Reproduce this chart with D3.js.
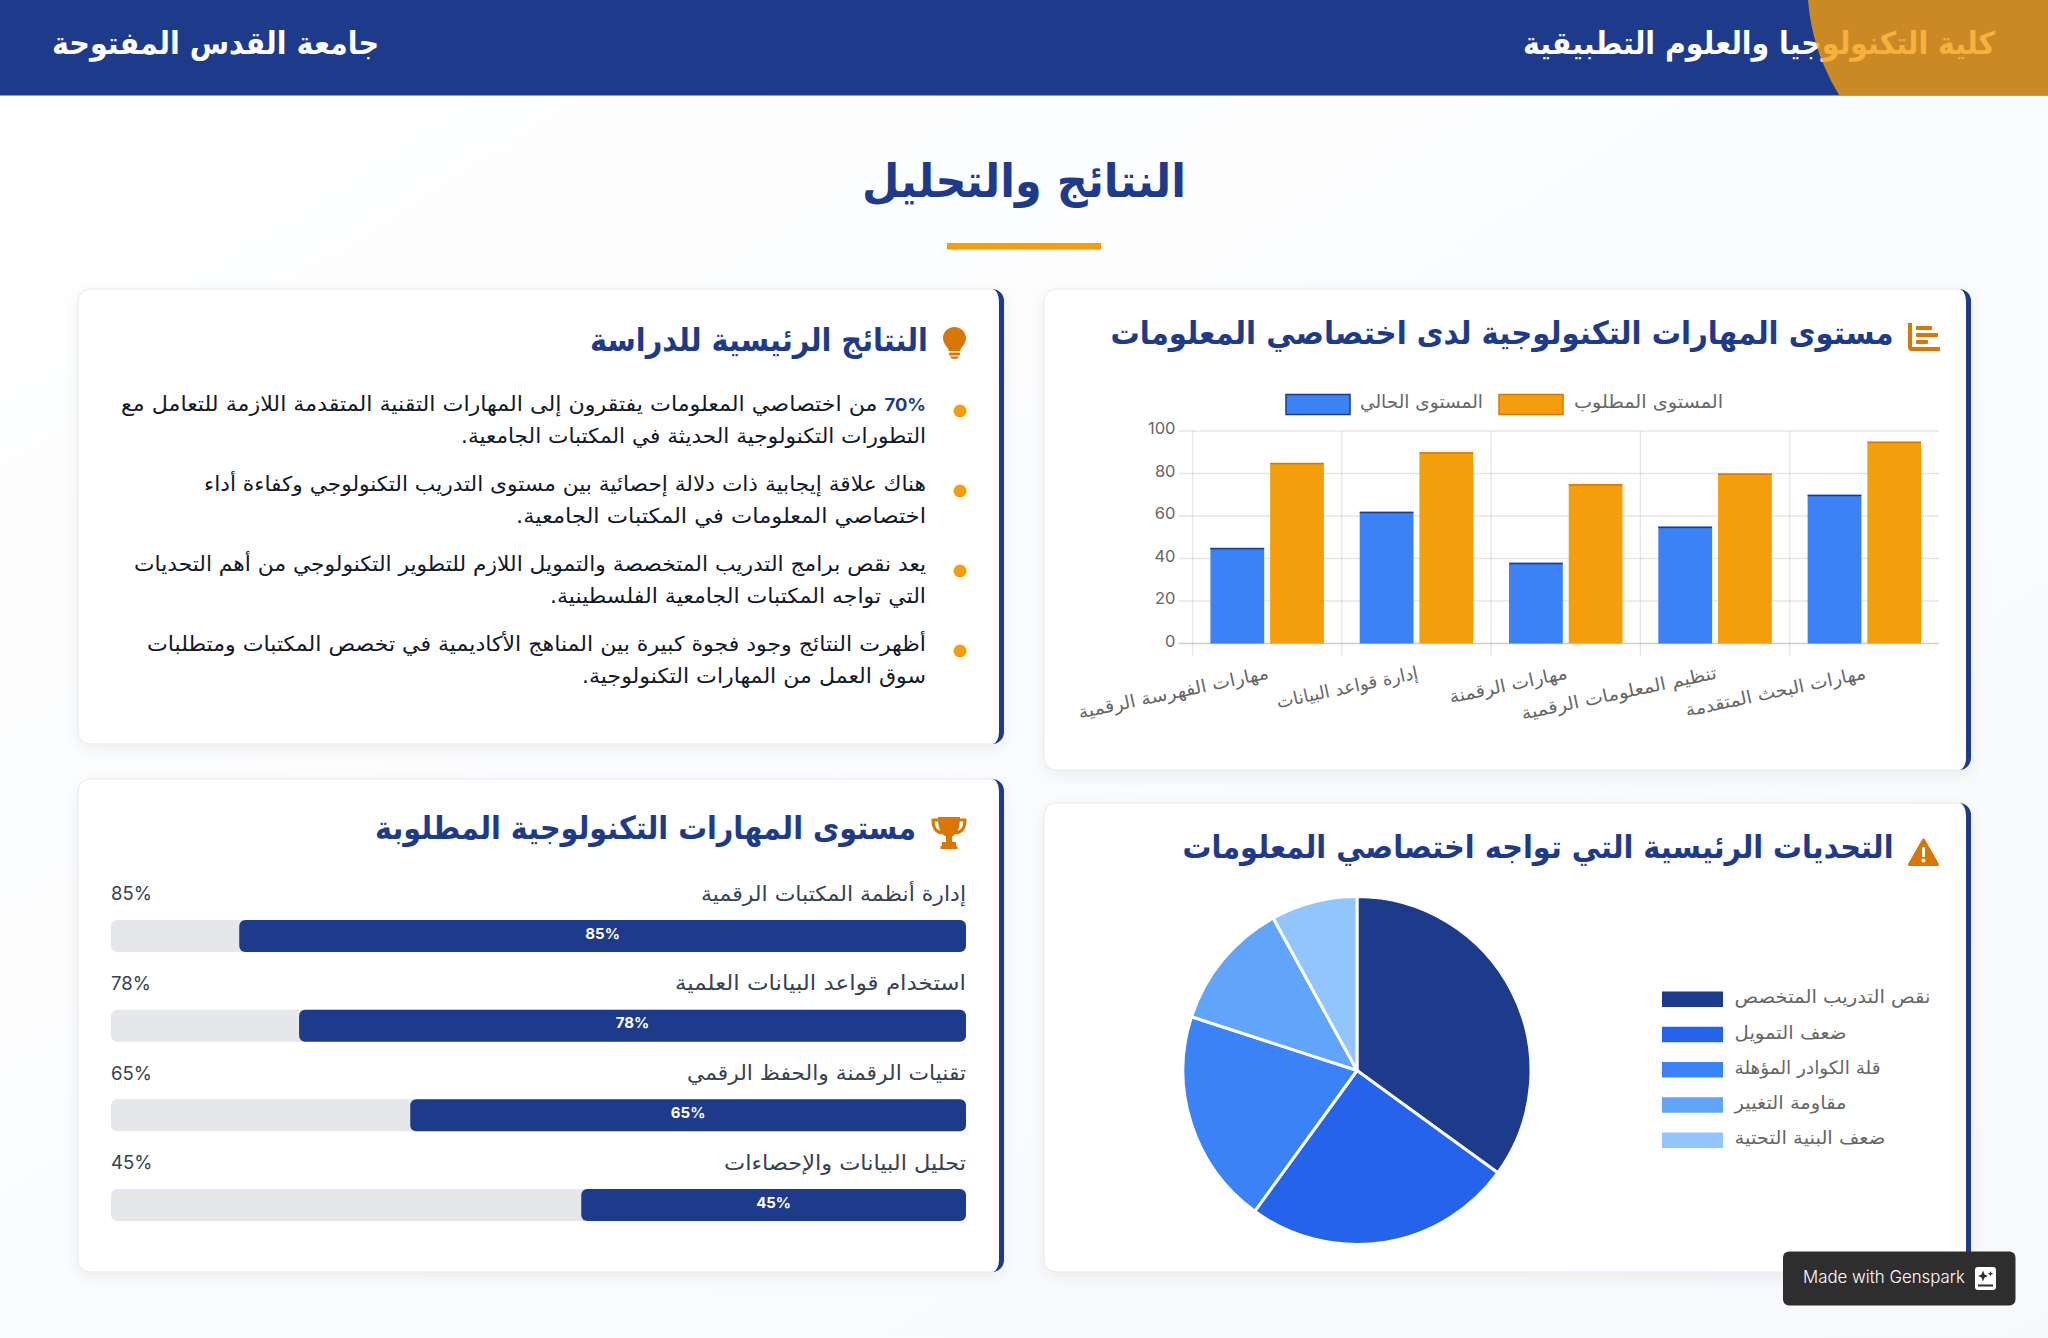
<!DOCTYPE html>
<html lang="ar">
<head>
<meta charset="utf-8">
<script src="https://cdnjs.cloudflare.com/ajax/libs/d3/7.8.5/d3.min.js"></script>
<style>
  html, body { margin: 0; padding: 0; background: #fff; }
  svg { display: block; }
  text { font-family: 'DejaVu Sans', sans-serif; }
  .latin { font-family: Inter, 'Noto Sans', sans-serif; }
</style>
</head>
<body>
<script>
const collegeName = 'كلية التكنولوجيا والعلوم التطبيقية'
const universityName = 'جامعة القدس المفتوحة'
const pageTitle = 'النتائج والتحليل'

const barTitle = 'مستوى المهارات التكنولوجية لدى اختصاصي المعلومات'
const findingsTitle = 'النتائج الرئيسية للدراسة'
const skillsTitle = 'مستوى المهارات التكنولوجية المطلوبة'
const pieTitle = 'التحديات الرئيسية التي تواجه اختصاصي المعلومات'

const categories = ['مهارات الفهرسة الرقمية', 'إدارة قواعد البيانات', 'مهارات الرقمنة', 'تنظيم المعلومات الرقمية', 'مهارات البحث المتقدمة']
const currentLevel = [45, 62, 38, 55, 70]
const requiredLevel = [85, 90, 75, 80, 95]
const seriesNames = ['المستوى الحالي', 'المستوى المطلوب']
const yTicks = [0, 20, 40, 60, 80, 100]

const findings = [
  ['70% من اختصاصي المعلومات يفتقرون إلى المهارات التقنية المتقدمة اللازمة للتعامل مع', 'التطورات التكنولوجية الحديثة في المكتبات الجامعية.'],
  ['هناك علاقة إيجابية ذات دلالة إحصائية بين مستوى التدريب التكنولوجي وكفاءة أداء', 'اختصاصي المعلومات في المكتبات الجامعية.'],
  ['يعد نقص برامج التدريب المتخصصة والتمويل اللازم للتطوير التكنولوجي من أهم التحديات', 'التي تواجه المكتبات الجامعية الفلسطينية.'],
  ['أظهرت النتائج وجود فجوة كبيرة بين المناهج الأكاديمية في تخصص المكتبات ومتطلبات', 'سوق العمل من المهارات التكنولوجية.']
]

const skillNames = ['إدارة أنظمة المكتبات الرقمية', 'استخدام قواعد البيانات العلمية', 'تقنيات الرقمنة والحفظ الرقمي', 'تحليل البيانات والإحصاءات']
const skillValues = [85, 78, 65, 45]

const challengeNames = ['نقص التدريب المتخصص', 'ضعف التمويل', 'قلة الكوادر المؤهلة', 'مقاومة التغيير', 'ضعف البنية التحتية']
const challengeValues = [35, 25, 20, 12, 8]
const challengeColors = ['#1e3a8a', '#2563eb', '#3b82f6', '#60a5fa', '#93c5fd']

const navy = '#1e3a8a', amber = '#f59e0b', darkAmber = '#d97706'

const svg = d3.select('body').append('svg')
  .attr('width', 2048)
  .attr('height', 1338)

const defs = svg.append('defs')
const bg = defs.append('linearGradient').attr('id', 'bg')
  .attr('x1', 0).attr('y1', 0).attr('x2', 1).attr('y2', 1)
bg.append('stop').attr('offset', 0).attr('stop-color', '#ffffff')
bg.append('stop').attr('offset', 1).attr('stop-color', '#f7f9fc')
const shadow = defs.append('filter').attr('id', 'shadow')
  .attr('x', '-5%').attr('y', '-5%').attr('width', '110%').attr('height', '112%')
shadow.append('feDropShadow').attr('dx', 0).attr('dy', 5).attr('stdDeviation', 8)
  .attr('flood-color', '#000').attr('flood-opacity', 0.06)

svg.append('rect').attr('width', 2048).attr('height', 1338).attr('fill', 'url(#bg)')

// text helper: fits arabic strings to the measured width of the original
function put(parent, str, x, y, size, width, opts = {}) {
  const t = parent.append('text')
    .attr('x', x).attr('y', y)
    .attr('dy', '.35em')
    .attr('direction', opts.ltr ? 'ltr' : 'rtl')
    .attr('text-anchor', opts.anchor || 'start')
    .attr('font-size', size)
    .attr('font-weight', opts.weight || 400)
    .attr('fill', opts.fill || '#111827')
    .text(str)
  if (width) t.attr('textLength', width).attr('lengthAdjust', 'spacingAndGlyphs')
  return t
}

// header
svg.append('rect').attr('width', 2048).attr('height', 95.5).attr('fill', navy)
put(svg, universityName, 379, 43, 31, 327, { weight: 700, fill: '#fff' })
put(svg, collegeName, 1995, 43, 31, 472, { weight: 700, fill: '#fff' })
defs.append('clipPath').attr('id', 'headerClip').append('rect').attr('width', 2048).attr('height', 95.5)
svg.append('circle')
  .attr('cx', 2018).attr('cy', -16).attr('r', 210.6)
  .attr('fill', amber).attr('opacity', 0.8)
  .attr('clip-path', 'url(#headerClip)')

// page title
put(svg, pageTitle, 1024, 180.5, 46, 324, { anchor: 'middle', weight: 700, fill: navy })
svg.append('rect').attr('x', 947).attr('y', 243).attr('width', 154).attr('height', 6.5).attr('fill', amber)

// cards
function card(x0, y0, x1, y1) {
  const g = svg.append('g')
  g.append('rect')
    .attr('x', x0).attr('y', y0)
    .attr('width', x1 - x0).attr('height', y1 - y0)
    .attr('rx', 12)
    .attr('fill', '#fff').attr('stroke', '#e4e7eb')
    .attr('filter', 'url(#shadow)')
  g.append('path').attr('fill', navy).attr('d',
    `M${x1 - 12},${y0}A12,12 0 0 1 ${x1},${y0 + 12}V${y1 - 12}A12,12 0 0 1 ${x1 - 12},${y1}` +
    `A7,12 0 0 0 ${x1 - 5},${y1 - 12}V${y0 + 12}A7,12 0 0 0 ${x1 - 12},${y0}Z`)
  return g
}

const barCard = card(1044, 289, 1971, 770)
const findingsCard = card(78, 289, 1004, 744)
const skillsCard = card(78, 779, 1004, 1272)
const pieCard = card(1044, 803, 1971, 1272)

// icons
function iconChart(g, x, y) {
  const i = g.append('g').attr('transform', `translate(${x},${y})`).attr('fill', darkAmber)
  i.append('path').attr('d', 'M0,0h4v24h28v4h-28a4,4 0 0 1 -4,-4z')
  i.append('rect').attr('x', 8).attr('y', 3).attr('width', 16).attr('height', 4).attr('rx', 1)
  i.append('rect').attr('x', 8).attr('y', 10).attr('width', 22).attr('height', 4).attr('rx', 1)
  i.append('rect').attr('x', 8).attr('y', 17).attr('width', 12).attr('height', 4).attr('rx', 1)
}
function iconBulb(g, x, y) {
  const i = g.append('g').attr('transform', `translate(${x},${y})`).attr('fill', darkAmber)
  i.append('path').attr('d', 'M11.5,0C5,0 0,5 0,11C0,17 4.5,19 6,24H17C18.5,19 23,17 23,11C23,5 18,0 11.5,0Z')
  i.append('rect').attr('x', 6).attr('y', 25.5).attr('width', 11).attr('height', 3).attr('rx', 1)
  i.append('path').attr('d', 'M7,29.5H16Q15,32 11.5,32Q8,32 7,29.5Z')
}
function iconTrophy(g, x, y) {
  const i = g.append('g').attr('transform', `translate(${x},${y})`)
  i.append('path').attr('fill', 'none').attr('stroke', darkAmber).attr('stroke-width', 3)
    .attr('d', 'M8,3H2C2,10 4,15 11,16M28,3H34C34,10 32,15 25,16')
  i.append('path').attr('fill', darkAmber)
    .attr('d', 'M7,0H29C29,10 27,17 21,19.5V25H25V29H26.5V32H9.5V29H11V25H15V19.5C9,17 7,10 7,0Z')
}
function iconWarning(g, x, y) {
  const i = g.append('g').attr('transform', `translate(${x},${y})`)
  i.append('path').attr('fill', darkAmber).attr('stroke', darkAmber).attr('stroke-width', 3).attr('stroke-linejoin', 'round')
    .attr('d', 'M15.5,2L29.5,26.5H1.5Z')
  i.append('rect').attr('x', 14).attr('y', 9).attr('width', 3).attr('height', 10).attr('rx', 1).attr('fill', '#fff')
  i.append('circle').attr('cx', 15.5).attr('cy', 22.5).attr('r', 2).attr('fill', '#fff')
}

// card titles
put(barCard, barTitle, 1893.5, 333, 32, 783, { weight: 700, fill: navy })
iconChart(barCard, 1908, 323)
put(findingsCard, findingsTitle, 928, 339.5, 32, 338, { weight: 700, fill: navy })
iconBulb(findingsCard, 943, 327)
put(skillsCard, skillsTitle, 916, 828, 32, 541, { weight: 700, fill: navy })
iconTrophy(skillsCard, 931, 817)
put(pieCard, pieTitle, 1893.5, 847, 32, 711, { weight: 700, fill: navy })
iconWarning(pieCard, 1908, 838)

// grouped bars
const plot = { left: 1192.5, right: 1939, top: 431, bottom: 643.5 }
const x = d3.scaleBand().domain(categories).range([plot.left, plot.right])
const inner = d3.scaleBand().domain([0, 1]).range([0, x.bandwidth() * 0.8]).paddingInner(0.1).paddingOuter(0.05)
const y = d3.scaleLinear().domain([0, 100]).range([plot.bottom, plot.top])

const grid = barCard.append('g').attr('stroke', '#000').attr('stroke-opacity', 0.1).attr('stroke-width', 1.3)
grid.selectAll('.h').data(yTicks).enter().append('line')
  .attr('x1', plot.left - 14).attr('x2', plot.right)
  .attr('y1', d => y(d)).attr('y2', d => y(d))
  .attr('stroke-opacity', d => d === 0 ? 0.2 : 0.1)
grid.selectAll('.v').data(categories).enter().append('line')
  .attr('x1', d => x(d)).attr('x2', d => x(d))
  .attr('y1', plot.top).attr('y2', plot.bottom + 13)

const yAxis = barCard.append('g')
  .attr('transform', `translate(${plot.left},0)`)
  .call(d3.axisLeft(y).tickValues(yTicks).tickSize(0).tickPadding(17))
yAxis.select('.domain').remove()
yAxis.selectAll('text').attr('class', 'latin').attr('font-size', 16.5).attr('fill', '#666').attr('y', -2.5)

const xAxis = barCard.append('g')
  .attr('transform', `translate(0,${plot.bottom})`)
  .call(d3.axisBottom(x).tickSize(0))
xAxis.select('.domain').remove()
const xLabelWidths = [194, 144, 120, 199, 184]
xAxis.selectAll('text')
  .attr('direction', 'rtl')
  .attr('text-anchor', 'start')
  .attr('font-size', 18)
  .attr('fill', '#666')
  .attr('x', 0).attr('y', 0).attr('dy', '.9em')
  .attr('textLength', (d, i) => xLabelWidths[i])
  .attr('lengthAdjust', 'spacingAndGlyphs')
  .attr('transform', 'translate(-1,19) rotate(-12)')

const bars = barCard.selectAll('.cat').data(categories).enter().append('g')
  .attr('transform', d => `translate(${x(d) + x.bandwidth() * 0.1},0)`)
bars.append('rect')
  .attr('x', inner(0)).attr('width', inner.bandwidth())
  .attr('y', (d, i) => y(currentLevel[i]))
  .attr('height', (d, i) => y(0) - y(currentLevel[i]))
  .attr('fill', '#3b82f6')
bars.append('rect')
  .attr('x', inner(1)).attr('width', inner.bandwidth())
  .attr('y', (d, i) => y(requiredLevel[i]))
  .attr('height', (d, i) => y(0) - y(requiredLevel[i]))
  .attr('fill', amber)
bars.append('rect')
  .attr('x', inner(0)).attr('width', inner.bandwidth())
  .attr('y', (d, i) => y(currentLevel[i])).attr('height', 1.5)
  .attr('fill', navy)
bars.append('rect')
  .attr('x', inner(1)).attr('width', inner.bandwidth())
  .attr('y', (d, i) => y(requiredLevel[i])).attr('height', 1.5)
  .attr('fill', darkAmber)

// bar legend
const legendRows = [
  { name: seriesNames[0], sx: 1286, tx: 1483, tw: 123, fill: '#3b82f6', stroke: navy },
  { name: seriesNames[1], sx: 1499, tx: 1723, tw: 149, fill: amber, stroke: darkAmber }
]
legendRows.forEach(d => {
  barCard.append('rect').attr('x', d.sx).attr('y', 394.5).attr('width', 64).attr('height', 20)
    .attr('fill', d.fill).attr('stroke', d.stroke).attr('stroke-width', 1.5)
  put(barCard, d.name, d.tx, 402, 18, d.tw, { fill: '#666' })
})

// findings list
const findingWidths = [[805, 465], [722, 410], [792, 376], [779, 344]]
const findingRows = findingsCard.selectAll('.finding').data(findings).enter().append('g')
  .attr('transform', (d, i) => `translate(0,${80 * i})`)
findingRows.append('circle')
  .attr('cx', 960).attr('cy', 411).attr('r', 6.5).attr('fill', amber)
findingRows.each(function (lines, i) {
  const row = d3.select(this)
  lines.forEach((line, j) => {
    const t = put(row, '', 926, 404 + 32 * j, 20.5, findingWidths[i][j], { fill: '#111827' })
    if (i === 0 && j === 0) {
      t.append('tspan').attr('class', 'latin').attr('fill', navy).attr('font-weight', 700).attr('font-size', 17).text('70%')
      t.append('tspan').text(line.slice(3))
    } else {
      t.text(line)
    }
  })
})

// progress rows
const track = { left: 111, right: 966 }
const fillWidth = d3.scaleLinear().domain([0, 100]).range([0, track.right - track.left])
const skillLabelWidths = [265, 291, 279, 242]
const skillRows = skillsCard.selectAll('.skill').data(skillNames).enter().append('g')
  .attr('transform', (d, i) => `translate(0,${89.67 * i})`)
skillRows.each(function (name, i) {
  const row = d3.select(this)
  put(row, name, track.right, 893.5, 20.5, skillLabelWidths[i], { fill: '#374151' })
  put(row, skillValues[i] + '%', track.left, 894, 18.5, null, { ltr: true, fill: '#374151' }).attr('class', 'latin')
  row.append('rect').attr('x', track.left).attr('y', 920).attr('width', track.right - track.left).attr('height', 32)
    .attr('rx', 6).attr('fill', '#e5e7eb')
  const w = fillWidth(skillValues[i])
  row.append('rect').attr('x', track.right - w).attr('y', 920).attr('width', w).attr('height', 32)
    .attr('rx', 6).attr('fill', navy)
  put(row, skillValues[i] + '%', track.right - w / 2, 933.5, 15, null, { ltr: true, anchor: 'middle', weight: 700, fill: '#fff' }).attr('class', 'latin')
})

// pie
const pie = d3.pie().sort(null)
const arc = d3.arc().innerRadius(0).outerRadius(174)
const pieG = pieCard.append('g').attr('transform', 'translate(1357,1070.5)')
pieG.selectAll('path').data(pie(challengeValues)).enter().append('path')
  .attr('d', arc)
  .attr('fill', (d, i) => challengeColors[i])
  .attr('stroke', '#fff').attr('stroke-width', 3)

const challengeLabelWidths = [196, 112, 146, 112, 151]
const legendY = d3.scalePoint().domain(challengeNames).range([999, 1140])
const pieLegend = pieCard.selectAll('.challenge').data(challengeNames).enter().append('g')
pieLegend.append('rect')
  .attr('x', 1662).attr('width', 61)
  .attr('y', d => legendY(d) - 7.5).attr('height', 15.5)
  .attr('fill', (d, i) => challengeColors[i])
pieLegend.each(function (name, i) {
  put(d3.select(this), name, 1734.5 + challengeLabelWidths[i], legendY(name) - 2, 18, challengeLabelWidths[i], { fill: '#666' })
})

// badge
const badge = svg.append('g')
badge.append('rect').attr('x', 1783).attr('y', 1251.5).attr('width', 232.5).attr('height', 54)
  .attr('rx', 6).attr('fill', '#2e2e2e')
put(badge, 'Made with Genspark', 1803, 1276.5, 17.5, 162, { ltr: true, fill: '#fff' }).attr('class', 'latin').attr('font-weight', 300)
badge.append('rect').attr('x', 1975).attr('y', 1267).attr('width', 21).attr('height', 23).attr('rx', 3).attr('fill', '#fff')
badge.append('path').attr('fill', '#2e2e2e')
  .attr('d', 'M1983,1270.5l1.5,4l3.5,1.5l-3.5,1.5l-1.5,4l-1.5,-4l-3.5,-1.5l3.5,-1.5zM1990.5,1271l.8,2l2,.8l-2,.8l-.8,2l-.8,-2l-2,-.8l2,-.8zM1978,1284.5h15v2h-15z')
</script>
</body>
</html>
